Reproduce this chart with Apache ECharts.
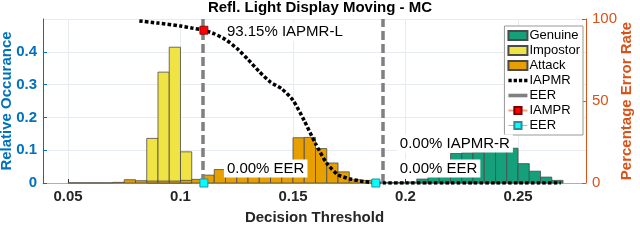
<!DOCTYPE html>
<html><head><meta charset="utf-8">
<script src="https://cdn.jsdelivr.net/npm/echarts@6/dist/echarts.min.js"></script>
<style>html,body{margin:0;padding:0;background:#fff}#c{width:640px;height:240px}</style>
</head><body><div id="c"></div>
<script>
// ---------- data ----------
const BIN = 0.005;
const xTicks = [0.05, 0.1, 0.15, 0.2, 0.25];
const yLeftTicks = [0, 0.1, 0.2, 0.3, 0.4];
const yRightTicks = [0, 50, 100];

const impostorStart = [0.085, 0.09, 0.095, 0.1];
const impostorVal   = [0.136, 0.338, 0.414, 0.095];

const attackStart = [0.05,0.055,0.06,0.065,0.07,0.075,0.08,0.085,0.09,0.095,0.1,0.105,0.11,0.115,0.12,0.125,0.13,0.135,0.14,0.145,0.15,0.155,0.16,0.165,0.17,0.175,0.18,0.185];
const attackVal   = [0.0006,0.0006,0.0006,0.0006,0.002,0.010,0.007,0.006,0.006,0.006,0.008,0.011,0.024,0.041,0.030,0.028,0.028,0.030,0.030,0.030,0.138,0.139,0.105,0.061,0.034,0.010,0.008,0.002];

const genuineStart = [0.19,0.195,0.2,0.205,0.21,0.215,0.22,0.225,0.23,0.235,0.24,0.245,0.25,0.255,0.26,0.265];
const genuineVal   = [0.002,0.002,0.003,0.012,0.025,0.040,0.090,0.092,0.094,0.096,0.098,0.106,0.059,0.036,0.018,0.008];

const iapmrX = [0.0817,0.09,0.1,0.105,0.1104,0.115,0.12,0.125,0.13,0.135,0.14,0.145,0.15,0.155,0.16,0.165,0.17,0.175,0.18,0.185,0.19,0.2,0.21,0.22,0.23,0.24,0.25,0.26,0.269];
const iapmrY = [98.8,97.5,95.7,94.5,93.15,91.0,87.5,82.2,75.3,67.9,61.5,57.4,50.5,38.0,24.0,12.0,5.0,2.6,1.2,0.3,0,0,0,0,0,0,0,0,0];

const eerThresholds = [0.1104, 0.1868];
const eerRate = [0, 0];
const iampr = [0.1104, 93.15];

const labelsText = ['93.15% IAPMR-L', '0.00% EER', '0.00% IAPMR-R', '0.00% EER'];

// ---------- chart ----------
const FONT = 'Liberation Sans, Arial, Helvetica, sans-serif';
const C_GEN = '#13a07a', C_IMP = '#f0e445', C_ATT = '#e7a000';
const BLUE = '#0072BD', ORANGE = '#D95319';

function zip(a, b) { return a.map((v, i) => [v, b[i]]); }
function histRender(color) {
  return function (params, api) {
    const x0 = api.value(0), v = api.value(1);
    const p0 = api.coord([x0, 0]);
    const p1 = api.coord([x0 + BIN, v]);
    return { type: 'rect',
      shape: { x: p0[0], y: p1[1], width: p1[0] - p0[0], height: p0[1] - p1[1] },
      style: { fill: color, stroke: '#4a4a4a', lineWidth: 0.8 } };
  };
}
function hist(name, starts, vals, color, z) {
  return { name, type: 'custom', renderItem: histRender(color), encode: { x: 0, y: 1 },
    data: zip(starts, vals), itemStyle: { color, borderColor: '#4a4a4a', borderWidth: 0.8 }, z };
}
const annLabel = { show: true, position: 'right', color: '#000', fontSize: 15, fontFamily: FONT,
  backgroundColor: '#fff', padding: [2, 3, 1, 3] };

const chart = echarts.init(document.getElementById('c'), null, { renderer: 'canvas' });
chart.setOption({
  animation: false,
  backgroundColor: '#fff',
  title: { text: 'Refl. Light Display Moving - MC', left: 'center', top: 0, padding: 0,
    textStyle: { fontFamily: FONT, fontSize: 15, fontWeight: 'bold', color: '#000' } },
  grid: { left: 43, right: 54, top: 19, bottom: 57, containLabel: false, outerBoundsMode: 'none' },
  legend: {
    orient: 'vertical', right: 57, top: 26, padding: [3, 3, 3, 3], itemGap: 2,
    itemWidth: 19, itemHeight: 9, backgroundColor: '#fff', borderColor: '#999', borderWidth: 1,
    textStyle: { fontFamily: FONT, fontSize: 13, color: '#000', lineHeight: 13, padding: [0, 0, 0, -3] },
    formatter: n => n.trim(),
    data: [
      { name: 'Genuine', icon: 'rect' },
      { name: 'Impostor', icon: 'rect' },
      { name: 'Attack', icon: 'rect' },
      { name: 'IAPMR', icon: 'path://M0,0h3.2v3.2h-3.2z M5.1,0h3.2v3.2h-3.2z M10.2,0h3.2v3.2h-3.2z M15.3,0h3.2v3.2h-3.2z' },
      { name: 'EER', icon: 'path://M0,0H19V3.6H0Z' },
      { name: 'IAMPR' },
      { name: 'EER ', lineStyle: { color: '#f2a07e', width: 1, opacity: 1 } }
    ]
  },
  xAxis: {
    type: 'value', min: 0.0389, max: 0.2802,
    axisLine: { show: true, onZero: false, lineStyle: { color: '#a8b0b8', width: 1 } },
    axisTick: { show: true, inside: true, length: 4, customValues: xTicks, lineStyle: { color: '#333' } },
    axisLabel: { customValues: xTicks, color: '#262626', fontSize: 15, fontWeight: 'bold', fontFamily: FONT, margin: 6 },
    splitLine: { show: true, lineStyle: { color: '#e6ecf2', width: 1 } },
    name: 'Decision Threshold', nameLocation: 'middle', nameGap: 27, nameMoveOverlap: false,
    nameTextStyle: { fontFamily: FONT, fontSize: 15, fontWeight: 'bold', color: '#262626' }
  },
  yAxis: [
    { type: 'value', min: 0, max: 0.5, interval: 0.1, position: 'left',
      axisLine: { show: true, lineStyle: { color: BLUE, width: 1 } },
      axisTick: { show: true, inside: true, length: 4, lineStyle: { color: BLUE } },
      axisLabel: { showMaxLabel: false, color: BLUE, fontSize: 15, fontWeight: 'bold', fontFamily: FONT, margin: 6 },
      splitLine: { show: true, lineStyle: { color: '#e6ecf2', width: 1 } },
      name: 'Relative Occurance', nameLocation: 'middle', nameGap: 29, nameMoveOverlap: false,
      nameTextStyle: { fontFamily: FONT, fontSize: 15, fontWeight: 'bold', color: BLUE } },
    { type: 'value', min: 0, max: 100, interval: 50, position: 'right',
      axisLine: { show: true, lineStyle: { color: ORANGE, width: 1 } },
      axisTick: { show: true, inside: true, length: 4, lineStyle: { color: ORANGE } },
      axisLabel: { color: ORANGE, fontSize: 15, fontFamily: FONT, margin: 6 },
      splitLine: { show: false },
      name: 'Percentage Error Rate', nameLocation: 'middle', nameGap: 33, nameMoveOverlap: false,
      nameTextStyle: { fontFamily: FONT, fontSize: 15, fontWeight: 'bold', color: ORANGE } }
  ],
  series: [
    hist('Impostor', impostorStart, impostorVal, C_IMP, 2),
    hist('Attack', attackStart, attackVal, C_ATT, 3),
    hist('Genuine', genuineStart, genuineVal, C_GEN, 3),
    { name: 'EER', type: 'line', data: [], symbol: 'none', z: 4,
      lineStyle: { color: '#808080', width: 3.5 }, itemStyle: { color: '#808080' },
      markLine: { silent: true, symbol: 'none', label: { show: false },
        lineStyle: { color: '#808080', width: 3.5, type: [9, 4] },
        data: eerThresholds.map(v => ({ xAxis: v })) } },
    { name: 'IAPMR', type: 'line', yAxisIndex: 1, data: zip(iapmrX, iapmrY), symbol: 'none', smooth: 0.2, z: 5,
      lineStyle: { color: '#000', width: 3.5, type: [3.5, 2.2] }, itemStyle: { color: '#000' } },
    { name: 'IAMPR', type: 'line', yAxisIndex: 1, data: [iampr], symbol: 'rect', symbolSize: 8, z: 6,
      lineStyle: { color: '#f2a07e', width: 1 }, itemStyle: { color: '#ff0000', borderColor: '#7a0000', borderWidth: 0.8 } },
    { name: 'EER ', type: 'line', yAxisIndex: 1, data: zip(eerThresholds, eerRate), symbol: 'rect', symbolSize: 8, z: 6,
      lineStyle: { color: '#f2a07e', width: 1, opacity: 0 }, itemStyle: { color: '#00ffff', borderColor: '#2a8f99', borderWidth: 1 } },
    { name: 'annotations', type: 'scatter', yAxisIndex: 1, data: [], z: 10, silent: true,
      markPoint: { symbol: 'rect', symbolSize: 0, silent: true,
        data: [
          { coord: [eerThresholds[0], iampr[1]], label: Object.assign({}, annLabel, { formatter: labelsText[0], distance: 20, offset: [0, 1.5] }) },
          { coord: [eerThresholds[0], 0], label: Object.assign({}, annLabel, { formatter: labelsText[1], distance: 20, offset: [0, -14.5] }) },
          { coord: [eerThresholds[1], 0], label: Object.assign({}, annLabel, { formatter: labelsText[2], distance: 21, offset: [0, -39.5] }) },
          { coord: [eerThresholds[1], 0], label: Object.assign({}, annLabel, { formatter: labelsText[3], distance: 21, offset: [0, -14.5] }) }
        ] } }
  ]
});
</script>
</body></html>
